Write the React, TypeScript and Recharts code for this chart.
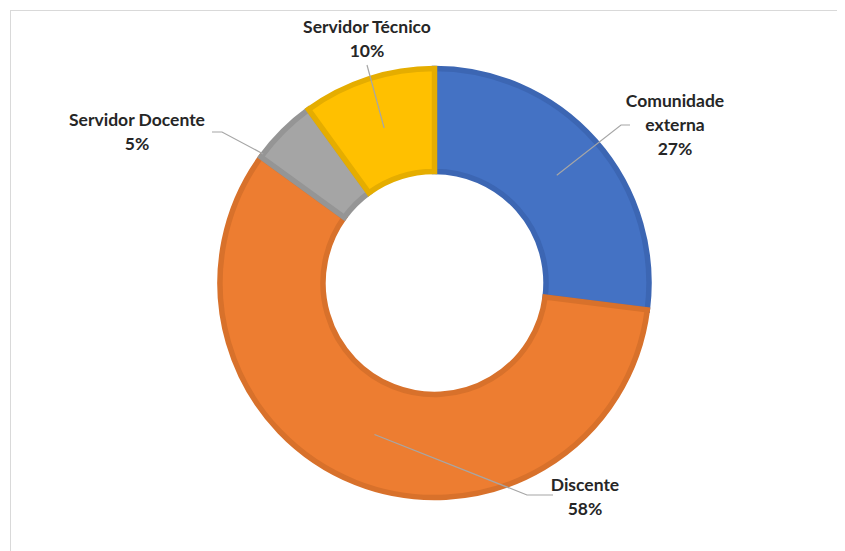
import { PieChart, Pie, Cell } from 'recharts'

// categorias e valores (percentuais)
const categorias = ['Comunidade externa', 'Discente', 'Servidor Docente', 'Servidor Técnico']
const valores = [27, 58, 5, 10]

const cores = ['#4472C4', '#ED7D31', '#A5A5A5', '#FFC000']
const bordas = ['#3C66B3', '#D8712B', '#959595', '#E5AD00']

// posição dos rótulos relativa ao centro (linhas do texto, cotovelo e ponta da linha guia)
const rotulos = [
  { lines: ['Comunidade', 'externa'], tx: 240.5, ty: -182, elbow: [186.5, -158], end: [195.5, -158], startR: 'mid', da: 0 },
  { lines: ['Discente'], tx: 150.5, ty: 202, elbow: [92.5, 212], end: [118.5, 212], startR: 'mid', da: 0 },
  { lines: ['Servidor Docente'], tx: -297.5, ty: -163, elbow: [-212.5, -151], end: [-222.5, -151], startR: 'outer', da: 8 },
  { lines: ['Servidor Técnico'], tx: -67.5, ty: -256, elbow: null, end: [-67.5, -218], startR: 'mid', da: 0 },
]

const data = categorias.map((name, i) => ({ name, value: valores[i] }))

const RAD = Math.PI / 180

const renderLabel = (props: any) => {
  const { cx, cy, midAngle, innerRadius, outerRadius, percent, index } = props
  const cfg = rotulos[index]
  const r = cfg.startR === 'outer' ? outerRadius : (innerRadius + outerRadius) / 2
  const a = midAngle + cfg.da
  const sx = cx + r * Math.cos(-a * RAD)
  const sy = cy + r * Math.sin(-a * RAD)
  const pts = [[sx, sy]]
  if (cfg.elbow) pts.push([cx + cfg.elbow[0], cy + cfg.elbow[1]])
  pts.push([cx + cfg.end[0], cy + cfg.end[1]])
  const lines = [...cfg.lines, `${Math.round(percent * 100)}%`]
  return (
    <g key={`lbl-${index}`}>
      <polyline points={pts.map(p => p.join(',')).join(' ')} fill="none" stroke="#A6A6A6" strokeWidth={1.2} />
      <text
        x={cx + cfg.tx}
        y={cy + cfg.ty}
        textAnchor="middle"
        fill="#262626"
        fontFamily="Lato, 'Open Sans', sans-serif"
        fontWeight="bold"
        fontSize={17.5}
      >
        {lines.map((l, i) => (
          <tspan key={i} x={cx + cfg.tx} dy={i === 0 ? 6 : 24}>{l}</tspan>
        ))}
      </text>
    </g>
  )
}

export default function App() {
  return (
    <div style={{ position: 'relative', width: 837, height: 543, overflow: 'hidden' }}>
      <div
        style={{
          position: 'absolute', left: 2, top: 2, width: 900, height: 700,
          border: '1px solid #D9D9D9', boxSizing: 'border-box',
        }}
      />
      <div style={{ position: 'absolute', left: 0, top: 0 }}>
        <PieChart width={837} height={543} margin={{ top: 0, right: 0, bottom: 0, left: 0 }}>
          <Pie
            data={data}
            dataKey="value"
            nameKey="name"
            cx={426.5}
            cy={275}
            startAngle={90}
            endAngle={-270}
            innerRadius={111.5}
            outerRadius={214.5}
            label={renderLabel}
            labelLine={false}
            isAnimationActive={false}
          >
            {data.map((entry, i) => (
              <Cell key={`cell-${i}`} fill={cores[i]} stroke={bordas[i]} strokeWidth={5.5} />
            ))}
          </Pie>
        </PieChart>
      </div>
    </div>
  )
}
